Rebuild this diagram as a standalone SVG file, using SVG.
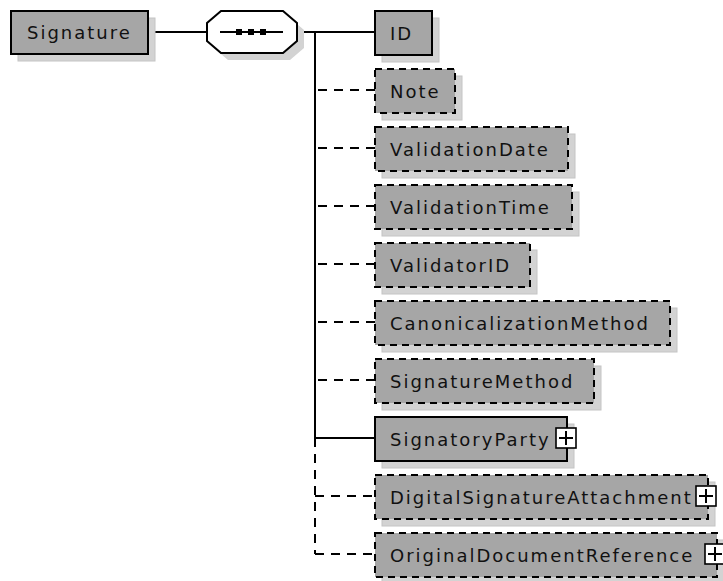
<svg xmlns="http://www.w3.org/2000/svg" width="723" height="581" viewBox="0 0 723 581">
<style>
.shadow{fill:#d3d3d3;stroke:#c4c4c4;stroke-width:1}
.box{fill:#a6a6a6;stroke:#000;stroke-width:2}
.opt{stroke-dasharray:7,5}
.lbl{font-family:"DejaVu Sans",Verdana,sans-serif;font-size:18px;letter-spacing:2px;fill:#111}
.conn{stroke:#000;stroke-width:2;fill:none}
.dash{stroke-dasharray:9,7}
.plus{fill:#fff;stroke:#000;stroke-width:1.6}
</style>
<rect width="723" height="581" fill="#fff"/>
<g id="connectors">
<line class="conn" x1="148" y1="32" x2="207" y2="32"/>
<line class="conn" x1="297" y1="32" x2="315" y2="32"/>
<line class="conn" x1="315" y1="31" x2="315" y2="439"/>
<line class="conn" x1="315" y1="32" x2="375" y2="32"/>
<line class="conn" x1="315" y1="438" x2="375" y2="438"/>
<line class="conn dash" x1="315" y1="438" x2="315" y2="554"/>
<line class="conn dash" x1="318" y1="90" x2="375" y2="90"/>
<line class="conn dash" x1="318" y1="148" x2="375" y2="148"/>
<line class="conn dash" x1="318" y1="206" x2="375" y2="206"/>
<line class="conn dash" x1="318" y1="264" x2="375" y2="264"/>
<line class="conn dash" x1="318" y1="322" x2="375" y2="322"/>
<line class="conn dash" x1="318" y1="380" x2="375" y2="380"/>
<line class="conn dash" x1="315" y1="496" x2="375" y2="496"/>
<line class="conn dash" x1="315" y1="554" x2="375" y2="554"/>
</g>
<g id="Signature">
<rect class="shadow" x="18" y="18" width="137" height="43"/>
<rect class="box" x="11" y="11" width="137" height="43"/>
<text class="lbl" x="27" y="39">Signature</text>
</g>
<g id="sequence">
<polygon fill="#d3d3d3" points="228,18 290,18 304,30 304,48 290,60 228,60 214,48 214,30"/>
<polygon fill="#fff" stroke="#000" stroke-width="2" points="221,11 283,11 297,23 297,41 283,53 221,53 207,41 207,23"/>
<line class="conn" x1="220" y1="32" x2="283" y2="32"/>
<rect x="236" y="29" width="6" height="6" fill="#000"/>
<rect x="248" y="29" width="6" height="6" fill="#000"/>
<rect x="260" y="29" width="6" height="6" fill="#000"/>
</g>
<g id="ID">
<rect class="shadow" x="382" y="18" width="57" height="44"/>
<rect class="box" x="375" y="11" width="57" height="44"/>
<text class="lbl" x="390" y="40">ID</text>
</g>
<g id="Note">
<rect class="shadow" x="382" y="76" width="80" height="44"/>
<rect class="box opt" x="375" y="69" width="80" height="44"/>
<text class="lbl" x="390" y="98">Note</text>
</g>
<g id="ValidationDate">
<rect class="shadow" x="382" y="134" width="193" height="44"/>
<rect class="box opt" x="375" y="127" width="193" height="44"/>
<text class="lbl" x="390" y="156">ValidationDate</text>
</g>
<g id="ValidationTime">
<rect class="shadow" x="382" y="192" width="197" height="44"/>
<rect class="box opt" x="375" y="185" width="197" height="44"/>
<text class="lbl" x="390" y="214">ValidationTime</text>
</g>
<g id="ValidatorID">
<rect class="shadow" x="382" y="250" width="155" height="44"/>
<rect class="box opt" x="375" y="243" width="155" height="44"/>
<text class="lbl" x="390" y="272">ValidatorID</text>
</g>
<g id="CanonicalizationMethod">
<rect class="shadow" x="382" y="308" width="295" height="44"/>
<rect class="box opt" x="375" y="301" width="295" height="44"/>
<text class="lbl" x="390" y="330">CanonicalizationMethod</text>
</g>
<g id="SignatureMethod">
<rect class="shadow" x="382" y="366" width="219" height="44"/>
<rect class="box opt" x="375" y="359" width="219" height="44"/>
<text class="lbl" x="390" y="388">SignatureMethod</text>
</g>
<g id="SignatoryParty">
<rect class="shadow" x="382" y="424" width="192" height="44"/>
<rect class="box" x="375" y="417" width="192" height="44"/>
<text class="lbl" x="390" y="446">SignatoryParty</text>
<rect class="plus" x="556" y="428" width="20" height="20"/>
<path class="conn" d="M559 438h14M566 431v14"/>
</g>
<g id="DigitalSignatureAttachment">
<rect class="shadow" x="382" y="482" width="333" height="44"/>
<rect class="box opt" x="375" y="475" width="333" height="44"/>
<text class="lbl" x="390" y="504">DigitalSignatureAttachment</text>
<rect class="plus" x="696" y="486" width="20" height="20"/>
<path class="conn" d="M699 496h14M706 489v14"/>
</g>
<g id="OriginalDocumentReference">
<rect class="shadow" x="382" y="540" width="342" height="44"/>
<rect class="box opt" x="375" y="533" width="342" height="44"/>
<text class="lbl" x="390" y="562">OriginalDocumentReference</text>
<rect class="plus" x="705" y="544" width="20" height="20"/>
<path class="conn" d="M708 554h14M715 547v14"/>
</g>
</svg>
